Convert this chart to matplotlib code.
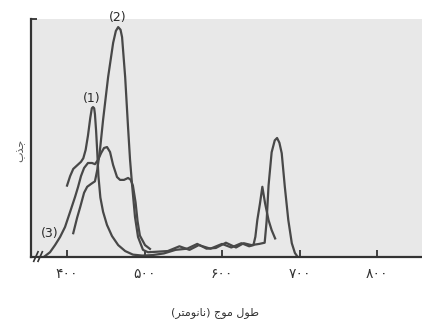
import matplotlib
matplotlib.use("Agg")
import matplotlib.pyplot as plt

# absorption spectra: (1) chlorophyll a, (2) chlorophyll b, (3) carotenoids
chl_a_nm = [400, 404, 408, 413, 418, 421, 424, 427, 430, 432, 433.5, 435, 436,
            437.5, 439, 440.5, 443, 446.5, 451.5, 458, 466, 475, 485, 497, 510,
            525, 540, 555, 568, 580, 592, 605, 618, 628, 638, 648, 655, 657.5,
            660, 664, 668, 671, 674, 677, 681, 685.5, 690, 694, 697]
chl_a_abs = [0.30, 0.34, 0.37, 0.385, 0.40, 0.415, 0.45, 0.51, 0.585, 0.625, 0.63,
             0.625, 0.60, 0.53, 0.44, 0.34, 0.25, 0.19, 0.135, 0.088, 0.05, 0.025,
             0.01, 0.006, 0.008, 0.015, 0.03, 0.035, 0.055, 0.035, 0.038, 0.06,
             0.04, 0.058, 0.05, 0.055, 0.06, 0.15, 0.30, 0.44, 0.49, 0.50, 0.48,
             0.436, 0.295, 0.155, 0.058, 0.017, 0.003]

chl_b_nm = [408, 413, 417, 422, 426, 431, 436, 439, 442.5, 446.5, 453, 459.5, 463,
            466, 469, 471, 475, 478.7, 481.3, 484, 487.7, 491.6, 498, 504.5, 515,
            530, 545, 558, 570, 585, 600, 612, 625, 635, 640.5, 643, 645.5, 649,
            652, 655.5, 660, 664, 668.5]
chl_b_abs = [0.10, 0.165, 0.21, 0.27, 0.295, 0.307, 0.318, 0.366, 0.45, 0.576,
             0.756, 0.90, 0.95, 0.966, 0.955, 0.924, 0.756, 0.546, 0.408, 0.30,
             0.168, 0.084, 0.03, 0.02, 0.022, 0.025, 0.045, 0.03, 0.05, 0.035,
             0.055, 0.04, 0.058, 0.045, 0.05, 0.085, 0.155, 0.226, 0.295, 0.226,
             0.155, 0.113, 0.078]

carot_nm = [370, 378, 384.5, 391, 397.4, 404, 410.3, 414.2, 418, 422, 427, 432.3,
            436, 440, 444, 447.7, 451.6, 455.5, 459.4, 464.5, 468.4, 473.5, 478.7,
            482, 485, 488.4, 491, 494, 500.6, 507]
carot_abs = [0.0, 0.02, 0.05, 0.084, 0.126, 0.19, 0.252, 0.294, 0.34, 0.374, 0.395,
             0.395, 0.39, 0.408, 0.437, 0.458, 0.462, 0.441, 0.387, 0.336, 0.324,
             0.324, 0.332, 0.325, 0.30, 0.23, 0.15, 0.09, 0.05, 0.034]

tick_values = [400, 500, 600, 700, 800]
tick_labels = ["\u06f4\u06f0\u06f0", "\u06f5\u06f0\u06f0", "\u06f6\u06f0\u06f0",
               "\u06f7\u06f0\u06f0", "\u06f8\u06f0\u06f0"]

curve_labels = ["(1)", "(2)", "(3)"]
label_nm = [432.3, 465.8, 378]
label_abs = [0.668, 1.008, 0.10]

# Persian text, already shaped (presentation forms) and in visual order
# "طول موج (نانومتر)"
x_title = ("(" + "\ufeae\ufe98\ufee3\ufeee\ufee7\ufe8e\ufee7" + ") "
           + "\ufe9d\ufeee\ufee3" + " " + "\ufedd\ufeee\ufec3")
# "جذب"
y_title = "\ufe8f\ufeac\ufe9f"

plt.rcParams["font.family"] = ["DejaVu Sans"]

fig = plt.figure(figsize=(4.22, 3.27), dpi=100)
ax = fig.add_axes([31 / 422, 1 - 257 / 327, 391 / 422, 238 / 327])
ax.set_facecolor("#e8e8e8")

line_color = "#484848"
ax.plot(chl_a_nm, chl_a_abs, color=line_color, lw=1.6)
ax.plot(chl_b_nm, chl_b_abs, color=line_color, lw=1.6)
ax.plot(carot_nm, carot_abs, color=line_color, lw=1.6)

for text, x, y in zip(curve_labels, label_nm, label_abs):
    ax.text(x, y, text, ha="center", va="center", fontsize=9,
            color="#2a2a2a", clip_on=False)

ax.set_xlim(353.5, 858)
ax.set_ylim(0, 1.0)

for side in ["top", "right"]:
    ax.spines[side].set_visible(False)
for side in ["left", "bottom"]:
    ax.spines[side].set_color("#333333")
    ax.spines[side].set_linewidth(1.6)

ax.set_xticks(tick_values)
ax.set_xticklabels(tick_labels)
ax.tick_params(axis="x", direction="in", length=5, width=1.3, color="#333333",
               pad=7, labelsize=10, labelcolor="#333333")
ax.set_yticks([1.0])
ax.set_yticklabels([])
ax.tick_params(axis="y", direction="in", length=4, width=1.3, color="#333333")

# axis break marks at the bottom-left corner
for dx in [0.0, 0.011]:
    ax.plot([0.007 + dx, 0.018 + dx], [-0.018, 0.022], transform=ax.transAxes,
            color="#333333", lw=1.2, clip_on=False)

fig.text(215 / 422, 1 - 313 / 327, x_title, ha="center", va="center",
         fontsize=8, color="#333333")
fig.text(20 / 422, 1 - 150 / 327, y_title, ha="center", va="center",
         rotation=90, fontsize=8, color="#555555")

fig.savefig("out.png", dpi=100)
